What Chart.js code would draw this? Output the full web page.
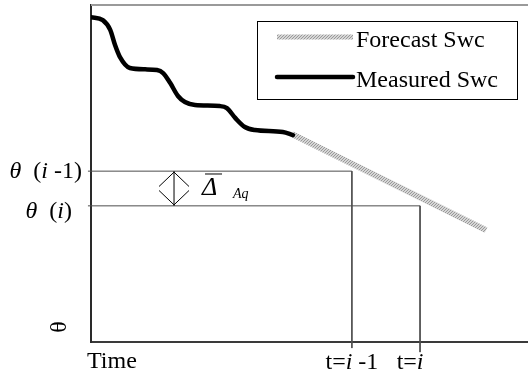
<!DOCTYPE html>
<html>
<head>
<meta charset="utf-8">
<script src="https://cdn.jsdelivr.net/npm/chart.js@4.4.1/dist/chart.umd.min.js"></script>
<style>
  html, body { margin: 0; padding: 0; background: #fff; }
  #wrap { width: 528px; height: 385px; position: relative; }
</style>
</head>
<body>
<div id="wrap"><canvas id="swcChart"></canvas></div>
<script>
// Measured soil water content curve (time %, theta %)
const measuredX = [0, 2.7, 4.4, 5.5, 6.6, 8.9, 12.4, 15.1, 16.5, 18.1, 19.9, 21.5, 23.8, 29.5, 31.1, 33.0, 35.2, 37.5, 43.9, 46.2];
const measuredY = [96.4, 95.5, 92.6, 88.1, 84.6, 81.3, 80.9, 80.7, 79.8, 76.9, 73.0, 71.2, 70.3, 70.0, 69.4, 66.5, 63.8, 62.9, 62.3, 61.4];

// Forecast line
const forecastX = [46.0, 90.4];
const forecastY = [61.7, 33.2];

// Reference levels / times
const thetaLevels = [50.7, 40.4];
const thetaLabels = ['*θ*  (*i* -1)', '*θ*  (*i*)'];
const timeMarks = [59.7, 75.3];
const timeLabels = ['t=*i* -1', 't=*i*'];
const seriesNames = ['Forecast Swc', 'Measured Swc'];

const SERIF = '"Liberation Serif", "Times New Roman", serif';
const FS = 24;

function makePattern() {
  const c = document.createElement('canvas');
  c.width = 3; c.height = 3;
  const g = c.getContext('2d');
  g.fillStyle = '#d6d6d6';
  g.fillRect(0, 0, 3, 3);
  g.fillStyle = '#999';
  g.fillRect(0, 0, 1, 1);
  g.fillRect(2, 1, 1, 1);
  g.fillRect(1, 2, 1, 1);
  return document.getElementById('swcChart').getContext('2d').createPattern(c, 'repeat');
}
const forecastPattern = makePattern();

function zip(xs, ys) { return xs.map((x, i) => ({ x: x, y: ys[i] })); }

// text with *italic* segments
function drawRich(ctx, spec, x, y, size, align) {
  const parts = spec.split('*');
  let total = 0;
  const widths = parts.map((p, i) => {
    ctx.font = (i % 2 ? 'italic ' : '') + size + 'px ' + SERIF;
    const w = ctx.measureText(p).width;
    total += w;
    return w;
  });
  let cx = align === 'right' ? x - total : align === 'center' ? x - total / 2 : x;
  parts.forEach((p, i) => {
    ctx.font = (i % 2 ? 'italic ' : '') + size + 'px ' + SERIF;
    ctx.textAlign = 'left';
    ctx.fillText(p, cx, y);
    cx += widths[i];
  });
}

const annotations = {
  id: 'annotations',
  afterDatasetsDraw(chart) {
    const { ctx, chartArea, scales: { x, y } } = chart;
    ctx.save();
    // top frame line
    ctx.strokeStyle = '#9a9a9a';
    ctx.lineWidth = 2;
    ctx.beginPath();
    ctx.moveTo(chartArea.left, chartArea.top);
    ctx.lineTo(chartArea.right, chartArea.top);
    ctx.stroke();

    ctx.fillStyle = '#000';
    ctx.textBaseline = 'alphabetic';
    // y labels
    drawRich(ctx, thetaLabels[0], 82, y.getPixelForValue(thetaLevels[0]) + 7, FS, 'right');
    drawRich(ctx, thetaLabels[1], 72, y.getPixelForValue(thetaLevels[1]) + 12, FS, 'right');
    // x labels
    timeLabels.forEach((t, i) => drawRich(ctx, t, x.getPixelForValue(timeMarks[i]) - (i ? 10 : 0), 369, FS, 'center'));
    drawRich(ctx, 'Time', 87, 368, FS, 'left');

    // rotated axis title
    ctx.save();
    ctx.translate(60, 327);
    ctx.rotate(-Math.PI / 2);
    ctx.font = FS + 'px ' + SERIF;
    ctx.textAlign = 'center';
    ctx.textBaseline = 'middle';
    ctx.fillText('θ', 0, 0);
    ctx.restore();

    // double arrow between levels
    const ax = x.getPixelForValue(19);
    const y1 = y.getPixelForValue(thetaLevels[0]);
    const y2 = y.getPixelForValue(thetaLevels[1]);
    const mid = (y1 + y2) / 2;
    ctx.strokeStyle = '#000';
    ctx.lineWidth = 1;
    ctx.beginPath();
    ctx.moveTo(ax, y1); ctx.lineTo(ax, y2);
    ctx.moveTo(ax - 15, mid - 2); ctx.lineTo(ax, y1 + 1); ctx.lineTo(ax + 15, mid - 2);
    ctx.moveTo(ax - 15, mid + 2); ctx.lineTo(ax, y2 - 1); ctx.lineTo(ax + 15, mid + 2);
    ctx.stroke();
    // delta label
    ctx.font = 'italic 26px ' + SERIF;
    ctx.textAlign = 'left';
    ctx.fillText('Δ', ax + 28, mid + 7);
    ctx.beginPath();
    ctx.moveTo(ax + 31, mid - 14.5); ctx.lineTo(ax + 48, mid - 14.5);
    ctx.stroke();
    ctx.font = 'italic 14px ' + SERIF;
    ctx.fillText('Aq', ax + 59, mid + 10);

    // legend box
    const lx = 257, ly = 21, lw = 260, lh = 78;
    ctx.fillStyle = '#fff';
    ctx.fillRect(lx, ly, lw, lh);
    ctx.strokeStyle = '#000';
    ctx.lineWidth = 1;
    ctx.strokeRect(lx + 0.5, ly + 0.5, lw, lh);
    const rows = [37, 77];
    chart.data.datasets.slice(0, 2).forEach((ds, i) => {
      ctx.strokeStyle = ds.borderColor;
      ctx.lineWidth = i === 0 ? 5 : 4.5;
      ctx.lineCap = i === 0 ? 'butt' : 'round';
      ctx.beginPath();
      ctx.moveTo(277, rows[i]);
      ctx.lineTo(353, rows[i]);
      ctx.stroke();
      ctx.fillStyle = '#000';
      ctx.font = FS + 'px ' + SERIF;
      ctx.textAlign = 'left';
      ctx.textBaseline = 'alphabetic';
      ctx.fillText(ds.label, 356, rows[i] + 10);
    });
    ctx.restore();
  }
};

const guideStyle = { showLine: true, pointRadius: 0, borderColor: '#4d4d4d', borderWidth: 1, clip: false, tension: 0 };

new Chart(document.getElementById('swcChart'), {
  type: 'scatter',
  data: {
    datasets: [
      { label: seriesNames[0], data: zip(forecastX, forecastY), showLine: true, pointRadius: 0,
        borderColor: forecastPattern, borderWidth: 6, borderCapStyle: 'butt', order: 1 },
      { label: seriesNames[1], data: zip(measuredX, measuredY), showLine: true, pointRadius: 0,
        borderColor: '#000', borderWidth: 4.5, cubicInterpolationMode: 'monotone', borderCapStyle: 'round', order: 0 },
      Object.assign({ label: 'prev', data: [{ x: -0.7, y: thetaLevels[0] }, { x: timeMarks[0], y: thetaLevels[0] }, { x: timeMarks[0], y: -1.8 }], order: 2 }, guideStyle),
      Object.assign({ label: 'cur', data: [{ x: -0.7, y: thetaLevels[1] }, { x: timeMarks[1], y: thetaLevels[1] }, { x: timeMarks[1], y: -3 }], order: 2 }, guideStyle)
    ]
  },
  options: {
    responsive: true,
    maintainAspectRatio: false,
    animation: false,
    layout: { padding: { left: 91, top: 5, right: 0, bottom: 43 } },
    plugins: { legend: { display: false }, tooltip: { enabled: false } },
    scales: {
      x: { type: 'linear', min: 0, max: 100, ticks: { display: false }, grid: { display: false, drawTicks: false },
           border: { display: true, color: '#3a3a3a', width: 2 } },
      y: { type: 'linear', min: 0, max: 100, ticks: { display: false }, grid: { display: false, drawTicks: false },
           border: { display: true, color: '#2a2a2a', width: 2 } }
    }
  },
  plugins: [annotations]
});
</script>
</body>
</html>
